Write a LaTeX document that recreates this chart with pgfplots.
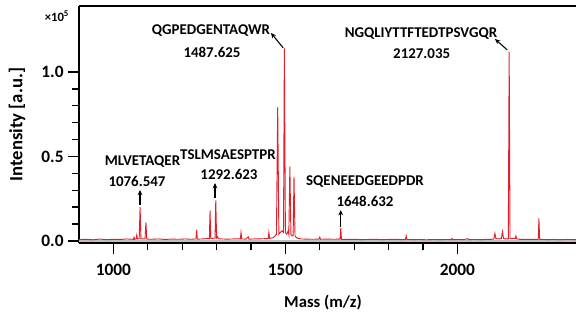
\documentclass[border=0pt]{standalone}
\usepackage{pgfplots}
\pgfplotsset{compat=1.18}
\usepackage{fontspec}
\setmainfont{Carlito}
\usetikzlibrary{arrows.meta}
\definecolor{specred}{RGB}{226,30,42}
\definecolor{basegray}{RGB}{190,190,190}
\begin{document}
\begin{tikzpicture}
\useasboundingbox (-59.25pt,-54pt) rectangle (372.75pt,182.25pt);
\clip (-59.25pt,-54pt) rectangle (372.75pt,182.25pt);
\begin{axis}[
  at={(0,0)}, anchor=south west,
  scale only axis, width=387pt, height=177.75pt,
  xmin=900, xmax=2400, ymin=-0.012, ymax=1.39,
  axis x line*=box, axis y line*=left,
  axis line style={-, line width=1.4pt, black},
  xtick pos=bottom, ytick pos=left,
  tick align=outside,
  major tick length=8pt, minor tick length=5.5pt,
  every tick/.style={black, line width=1pt},
  xtick={1000,1500,2000}, minor x tick num=4,
  ytick={0,0.5,1}, minor y tick num=4,
  /pgf/number format/assume math mode=true,
  yticklabel style={/pgf/number format/.cd, fixed, fixed zerofill, precision=1},
  xticklabel style={/pgf/number format/set thousands separator={}, yshift=-4pt},
  ticklabel style={font=\bfseries\fontsize{13}{15}\selectfont},
  every axis x label/.style={at={(axis description cs:0,0)}, xshift=183pt, yshift=-45pt, anchor=center, font=\bfseries\fontsize{12.5}{15}\selectfont},
  every axis y label/.style={at={(axis description cs:0,0.5)}, xshift=-46.5pt, rotate=90, anchor=center, font=\bfseries\fontsize{14}{16}\selectfont},
  xlabel={Mass (m/z)},
  ylabel={Intensity [a.u.]},
  clip=true,
]
\addplot[basegray, line width=1pt] coordinates {(900,0.0)(2400,0.0)};
\addplot[specred, line width=0.7pt] coordinates {
(900,0.008)(920,0.010)(940,0.007)(960,0.011)(980,0.008)(1000,0.010)(1020,0.009)(1040,0.012)(1055,0.010)
(1058,0.010)(1060,0.022)(1062,0.010)
(1066,0.012)(1068,0.035)(1070,0.012)
(1075,0.012)(1077.6,0.20)(1080,0.012)
(1092,0.012)(1094.5,0.11)(1097,0.011)
(1110,0.010)(1130,0.012)(1150,0.009)(1170,0.011)(1190,0.010)(1210,0.012)(1225,0.010)
(1240,0.012)(1242,0.065)(1244,0.011)
(1260,0.012)(1270,0.014)
(1279,0.014)(1281,0.18)(1283,0.015)
(1290,0.016)(1295.5,0.016)(1297.6,0.24)(1300,0.018)(1303,0.025)(1305,0.014)
(1315,0.012)(1330,0.011)(1350,0.012)
(1369,0.012)(1371,0.05)(1373,0.012)
(1385,0.011)(1392,0.025)(1394,0.011)(1410,0.012)(1430,0.013)
(1450,0.014)(1452,0.05)(1454,0.015)
(1465,0.02)(1470,0.03)(1474,0.04)(1477.6,0.79)(1481,0.04)(1485,0.05)(1490,0.06)(1494.5,0.05)(1497,1.14)(1500,0.05)(1504,0.04)(1508,0.06)(1510,0.04)(1513,0.44)(1516,0.04)(1519,0.03)(1522.5,0.03)(1525,0.38)(1528,0.03)(1532,0.02)(1537,0.015)(1545,0.012)
(1560,0.011)(1580,0.010)(1598,0.011)(1600,0.022)(1602,0.010)(1620,0.011)(1640,0.010)
(1659,0.011)(1661,0.077)(1663,0.010)
(1680,0.009)(1700,0.010)(1720,0.008)(1740,0.009)(1760,0.010)(1780,0.008)(1800,0.009)(1820,0.010)(1840,0.008)
(1849,0.009)(1851,0.03)(1853,0.009)
(1870,0.008)(1890,0.009)(1910,0.007)(1930,0.009)(1950,0.008)(1970,0.009)(1982,0.008)(1984,0.015)(1986,0.008)(2000,0.009)(2020,0.008)(2030,0.014)(2032,0.008)(2050,0.009)(2070,0.008)(2090,0.010)
(2100,0.010)(2106,0.012)(2109,0.045)(2112,0.014)(2120,0.012)(2128,0.015)(2131,0.055)(2134,0.015)(2140,0.012)
(2148,0.012)(2150.5,1.12)(2153,0.015)
(2160,0.014)(2168,0.015)(2170,0.03)(2172,0.013)(2180,0.010)(2200,0.009)(2220,0.010)
(2235,0.010)(2237,0.134)(2239,0.010)
(2260,0.008)(2280,0.009)(2300,0.008)(2320,0.009)(2340,0.008)(2360,0.009)(2380,0.008)(2400,0.009)
};
\begin{scope}[every node/.style={font=\bfseries\fontsize{11.2}{13}\selectfont, inner sep=0pt}]
\node at (axis cs:1084.6,0.469) {MLVETAQER};
\node at (axis cs:1068.6,0.351) {1076.547};
\node at (axis cs:1333,0.513) {TSLMSAESPTPR};
\node at (axis cs:1336,0.396) {1292.623};
\node at (axis cs:1283.7,1.243) {QGPEDGENTAQWR};
\node at (axis cs:1286.6,1.118) {1487.625};
\node at (axis cs:1731.4,0.351) {SQENEEDGEEDPDR};
\node at (axis cs:1731.4,0.2325) {1648.632};
\node at (axis cs:1894.2,1.229) {NGQLIYTTFTEDTPSVGQR};
\node at (axis cs:1896.2,1.111) {2127.035};
\end{scope}
\begin{scope}[-{Stealth[length=4pt,width=3.5pt]}, line width=0.8pt, black]
\draw (axis cs:1077.3,0.213) -- (axis cs:1077.3,0.302);
\draw (axis cs:1295.3,0.254) -- (axis cs:1295.3,0.343);
\draw (axis cs:1660.8,0.085) -- (axis cs:1660.8,0.183);
\draw (axis cs:1493.6,1.142) -- (axis cs:1458,1.231);
\draw (axis cs:2145,1.130) -- (axis cs:2109.3,1.195);
\end{scope}
\end{axis}
\node[font=\bfseries\fontsize{9.5}{10}\selectfont, anchor=center] at (-16.5pt,170.25pt) {×10\textsuperscript{5}};
\end{tikzpicture}
\end{document}
